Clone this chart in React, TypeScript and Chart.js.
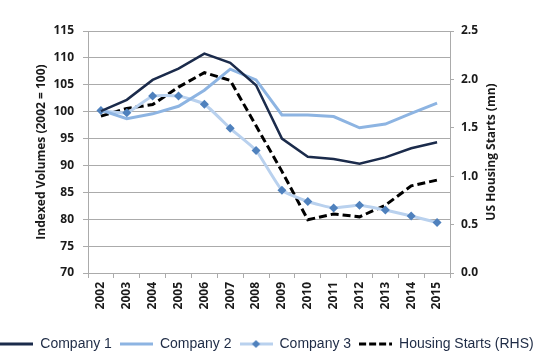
import React, { useEffect, useRef } from "react";
import { Chart, registerables } from "chart.js";

Chart.register(...registerables);

const years = ["2002", "2003", "2004", "2005", "2006", "2007", "2008", "2009", "2010", "2011", "2012", "2013", "2014", "2015"];
const company1 = [100.1, 102.2, 105.9, 108.0, 110.8, 109.1, 104.9, 95.0, 91.6, 91.2, 90.3, 91.5, 93.2, 94.3];
const company2 = [100.3, 98.7, 99.6, 101.0, 104.0, 107.9, 105.9, 99.4, 99.4, 99.1, 97.0, 97.7, 99.7, 101.6];
const company3 = [100.2, 99.8, 102.9, 102.9, 101.4, 96.9, 92.8, 85.4, 83.3, 82.1, 82.6, 81.7, 80.6, 79.4];
const housingStarts = [1.62, 1.70, 1.74, 1.92, 2.07, 1.99, 1.52, 1.05, 0.55, 0.61, 0.58, 0.70, 0.90, 0.96];

const leftTitle = "Indexed Volumes (2002 = 100)";
const rightTitle = "US Housing Starts (mn)";

const C1 = "#1b2b4b";
const C2 = "#8db4e2";
const C3 = "#b9d1ee";
const C3M = "#4f81bd";
const HS = "#000000";
const GRID = "#ababab";
const TICK_FONT = { family: "'Open Sans', sans-serif", size: 12, weight: "bold" as const };

function legendGlyph(color: string, width: number, dash: number[] | null, marker: string | null) {
  const c = document.createElement("canvas");
  c.width = 33;
  c.height = 12;
  const ctx = c.getContext("2d")!;
  ctx.strokeStyle = color;
  ctx.lineWidth = width;
  if (dash) ctx.setLineDash(dash);
  ctx.beginPath();
  ctx.moveTo(0, 6);
  ctx.lineTo(33, 6);
  ctx.stroke();
  if (marker) {
    ctx.setLineDash([]);
    ctx.fillStyle = marker;
    ctx.beginPath();
    ctx.moveTo(16.5, 2);
    ctx.lineTo(20.5, 6);
    ctx.lineTo(16.5, 10);
    ctx.lineTo(12.5, 6);
    ctx.closePath();
    ctx.fill();
  }
  return c;
}

const titlePlugin = {
  id: "sideTitles",
  afterLayout(chart: any) {
    const lg = chart.legend;
    if (lg) {
      lg.left -= 8;
      lg.right -= 8;
      lg.top += 3;
      lg.bottom += 3;
    }
  },
  afterDraw(chart: any) {
    const { ctx, chartArea } = chart;
    const cy = (chartArea.top + chartArea.bottom) / 2;
    ctx.save();
    ctx.font = "bold 12px 'Open Sans', sans-serif";
    ctx.fillStyle = "#1a1a1a";
    ctx.textAlign = "center";
    ctx.textBaseline = "middle";
    ctx.translate(chartArea.left - 46, cy);
    ctx.rotate(-Math.PI / 2);
    ctx.fillText(leftTitle, 0, 0);
    ctx.restore();
    ctx.save();
    ctx.font = "bold 12px 'Open Sans', sans-serif";
    ctx.fillStyle = "#1a1a1a";
    ctx.textAlign = "center";
    ctx.textBaseline = "middle";
    ctx.translate(chartArea.right + 42, cy);
    ctx.rotate(-Math.PI / 2);
    ctx.fillText(rightTitle, 0, 0);
    ctx.restore();
  },
};

export default function App() {
  const ref = useRef<HTMLCanvasElement>(null);
  useEffect(() => {
    const glyphs = [
      legendGlyph(C1, 3, null, null),
      legendGlyph(C2, 3, null, null),
      legendGlyph(C3, 3, null, C3M),
      legendGlyph(HS, 3, [7, 3], null),
    ];
    const chart = new Chart(ref.current!, {
      type: "line",
      data: {
        labels: years,
        datasets: [
          { label: "Company 1", data: company1, borderColor: C1, backgroundColor: C1, borderWidth: 2.5, pointRadius: 0, tension: 0, yAxisID: "y" },
          { label: "Company 2", data: company2, borderColor: C2, backgroundColor: C2, borderWidth: 3, pointRadius: 0, tension: 0, yAxisID: "y" },
          { label: "Company 3", data: company3, borderColor: C3, backgroundColor: C3M, borderWidth: 3, pointRadius: 4.5, pointStyle: "rectRot", pointBackgroundColor: C3M, pointBorderWidth: 0, tension: 0.15, yAxisID: "y" },
          { label: "Housing Starts (RHS)", data: housingStarts, borderColor: HS, backgroundColor: HS, borderWidth: 3, borderDash: [8, 4], pointRadius: 0, tension: 0, yAxisID: "y1" },
        ],
      },
      options: {
        animation: false,
        responsive: false,
        maintainAspectRatio: false,
        layout: { padding: { top: 31, left: 0, right: 0, bottom: 0 } },
        plugins: {
          tooltip: { enabled: false },
          legend: {
            position: "bottom",
            labels: {
              usePointStyle: true,
              pointStyleWidth: 33,
              boxWidth: 33,
              boxHeight: 12,
              padding: 8,
              color: "#1e2b45",
              font: { family: "'Liberation Sans', Arial, sans-serif", size: 14 },
              generateLabels: (ch: any) =>
                ch.data.datasets.map((ds: any, i: number) => ({
                  text: ds.label,
                  pointStyle: glyphs[i],
                  fillStyle: "transparent",
                  strokeStyle: "transparent",
                  lineWidth: 0,
                  hidden: false,
                  datasetIndex: i,
                  fontColor: "#1e2b45",
                })),
            },
          },
        },
        scales: {
          x: {
            offset: true,
            grid: { display: true, drawOnChartArea: false, offset: true, tickLength: 5, color: GRID },
            border: { display: true, color: GRID },
            ticks: { font: TICK_FONT, color: "#1a1a1a", minRotation: 90, maxRotation: 90, padding: 4, autoSkip: false },
            afterFit: (s: any) => {
              const lh = s.chart.legend ? s.chart.legend.height : 30;
              s.height = 358 - 273 - lh;
            },
          },
          y: {
            position: "left",
            min: 70,
            max: 115,
            ticks: { stepSize: 5, font: TICK_FONT, color: "#1a1a1a", padding: 9 },
            grid: { color: GRID, tickLength: 5 },
            border: { display: true, color: GRID },
            afterFit: (s: any) => { s.width = 88; },
          },
          y1: {
            position: "right",
            min: 0,
            max: 2.5,
            ticks: { stepSize: 0.5, font: TICK_FONT, color: "#1a1a1a", padding: 7, callback: (v: any) => Number(v).toFixed(1) },
            grid: { drawOnChartArea: false, color: GRID, tickLength: 4 },
            border: { display: true, color: GRID },
            afterFit: (s: any) => { s.width = 100; },
          },
        },
      },
      plugins: [titlePlugin],
    });
    return () => chart.destroy();
  }, []);
  return (
    <div style={{ position: "absolute", left: 0, top: 0, width: 550, height: 358 }}>
      <canvas ref={ref} width={550} height={358} style={{ width: 550, height: 358 }} />
    </div>
  );
}
